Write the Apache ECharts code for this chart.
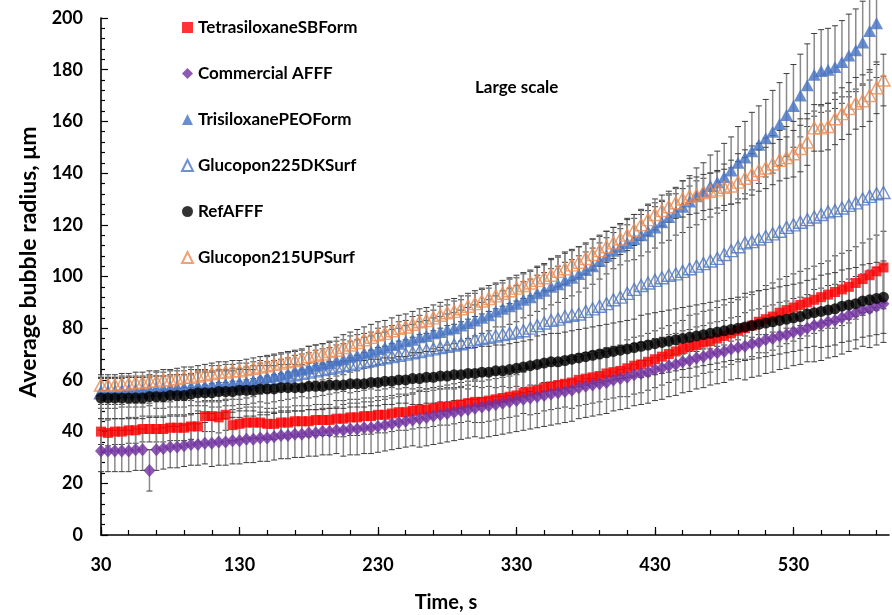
<!DOCTYPE html>
<html>
<head>
<meta charset="utf-8">
<script src="https://cdn.jsdelivr.net/npm/echarts@6/dist/echarts.min.js"></script>
<style>
  html, body { margin: 0; padding: 0; background: #fff; }
  #chart { width: 892px; height: 615px; }
</style>
</head>
<body>
<div id="chart"></div>
<script>
// Sampling times (s)
const times = [
  30,35,40,45,50,55,60,65,70,75,
  80,85,90,95,100,105,110,115,120,125,
  130,135,140,145,150,155,160,165,170,175,
  180,185,190,195,200,205,210,215,220,225,
  230,235,240,245,250,255,260,265,270,275,
  280,285,290,295,300,305,310,315,320,325,
  330,335,340,345,350,355,360,365,370,375,
  380,385,390,395,400,405,410,415,420,425,
  430,435,440,445,450,455,460,465,470,475,
  480,485,490,495,500,505,510,515,520,525,
  530,535,540,545,550,555,560,565,570,575,
  580,585,590,595
];

// Average bubble radius (µm) per formulation, and the ± error of each point
const tetrasiloxaneSB = [
  40,39.5,40,40,40.5,40.5,41,41,41,41,
  41.5,41.5,41.5,42,42,46,46,45.5,46.5,42.5,
  43,43.5,43.5,43.5,43,43,43.5,43.5,44,44,
  44,44.5,44.5,44.5,45,45,45.5,45.5,46,46,
  46.5,46.5,47,47.5,47.5,48,48.5,48.5,49,49.5,
  49.5,50,50.5,51,51.5,51.5,52,52.5,53,53.5,
  54,55,55.5,56,57,57.5,58,58.5,59,60,
  60.5,61,61.5,62.5,63,63.5,64.5,65.5,66,67,
  68,69,70,71,72,73,73.5,74.5,75,76,
  77,78,79,80,81,82.5,83.5,84.5,86,87,
  88,89,90,91,92,93,94,95,96,97.5,
  99,100.5,102,103.5
];
const tetrasiloxaneSBErr = [
  5,5,5,5,5,5,5,5,5,5,
  5,5,5,5,6,6,6,6,6,6,
  6,6,6,6,6,6,6,6,6,6,
  6,6,6,6,7,7,7,7,7,7,
  7,7,7,7,7,7,7,7,7,7,
  7,7,7,7,8,8,8,8,8,8,
  8,8,9,9,9,9,9,9,10,10,
  10,10,10,10,10,10,11,11,11,11,
  11,11,11,11,11,12,12,12,12,12,
  12,12,12,12,12,12,13,13,13,13,
  13,13,13,13,13,13,14,14,14,14,
  14,14,14,14
];

const commercialAFFF = [
  32.5,32.5,32.5,32.5,32.5,33,33,25,33,33.5,
  34,34,34.5,35,35,35.5,35.5,36,36,36.5,
  36.5,37,37,37.5,37.5,38,38.5,38.5,39,39,
  39.5,39.5,40,40,40.5,40.5,41,41,41.5,41.5,
  42,42.5,43,43.5,44,44.5,45,45.5,46,46.5,
  47,47.5,48,48.5,49,49.5,50,50.5,51,51.5,
  52,52.5,53,53.5,54,54.5,55,55.5,56,57,
  57.5,58,58.5,59,60,60.5,61,62,62.5,63,
  64,64.5,65.5,66,67,67.5,68.5,69,70,70.5,
  71,72,72.5,73,74,74.5,75.5,76,77,77.5,
  78.5,79,80,81,81.5,82.5,83,84,85,86,
  87,87.5,88.5,89.5
];
const commercialAFFFErr = [
  8,8,8,8,8,8,8,8,8,8,
  8,8,8,8,8,8,9,9,9,9,
  9,9,9,9,9,9,9,9,9,9,
  9,9,9,9,9,10,10,10,10,10,
  10,10,10,10,10,10,11,11,11,11,
  11,11,11,11,11,12,12,12,12,12,
  12,12,12,12,12,12,12,12,12,12,
  12,12,12,12,12,12,12,12,12,12,
  12,12,12,12,12,12,12,12,12,12,
  12,12,12,13,13,13,13,13,13,13,
  13,13,13,14,14,14,14,14,14,14,
  14,15,15,15
];

const trisiloxanePEO = [
  55.5,55.5,55.5,55.5,56,56,56,56,56.5,56.5,
  56.5,57,57,57,57.5,57.5,57.5,58,58,58.5,
  58.5,59,59.5,60.5,61,61.5,62,62.5,63.5,64,
  64.5,65.5,66,66.5,67.5,68,69,69.5,70.5,71,
  72,72.5,73.5,74,75,75.5,76.5,77,78,78.5,
  79.5,80,81,82,83,84,85,86.5,87.5,88.5,
  89.5,91,92,93.5,94.5,96,97,98.5,99.5,101,
  102.5,104,106,108,110,111.5,113,114.5,116,117.5,
  119,121,123,125,127,129,131,133,135,136.5,
  138.5,141,144,146,148.5,151,153.5,156,159,162.5,
  166,170,174,178,179.5,180,181,183,185.5,187.5,
  190.5,195,198,null
];
const trisiloxanePEOErr = [
  5,5,5,5,5,5,5,5,5,5,
  5,5,5,5,6,6,6,6,6,6,
  6,6,6,6,6,6,6,6,6,6,
  6,6,6,6,6,6,6,6,6,6,
  6,6,6,6,6,6,6,6,6,6,
  6,6,6,6,6,6,6,6,7,7,
  7,7,7,7,7,7,7,7,7,7,
  7,7,7,7,7,7,7,8,8,8,
  8,8,9,9,10,10,11,11,12,12,
  13,13,14,14,15,15,15,16,16,16,
  16,16,16,16,16,16,16,16,16,16,
  16,16,16,null
];

const glucopon225DK = [
  55,55,55,55.5,55.5,55.5,55.5,56,56,56,
  56.5,56.5,56.5,57,57,57,57.5,57.5,58,58,
  58.5,58.5,59,59.5,60,60.5,61,61.5,62,62.5,
  63,63.5,64,64.5,65,65.5,66,66.5,67,67.5,
  68,68.5,69,69.5,70,70.5,71,71.5,72,72.5,
  73,73.5,74,74.5,75.5,76,76.5,77,77.5,78,
  78.5,79,80,81,82,83,83.5,84.5,85,85.5,
  86.5,87.5,88.5,89.5,91,92,93.5,95,96.5,97.5,
  98.5,99.5,100.5,101,102,103,104,105,106,107,
  108.5,110,111.5,113,113.5,114.5,115.5,116.5,117.5,119,
  120,121,122,123,124,125,125.5,126.5,127.5,128.5,
  130,131,132,132.5
];
const glucopon225DKErr = [
  6,6,6,6,6,6,6,6,7,7,
  7,7,7,7,7,7,8,8,8,8,
  8,8,8,8,9,9,9,9,9,9,
  10,10,10,10,10,10,11,11,11,11,
  12,12,12,13,13,14,14,15,15,16,
  16,17,17,18,18,19,19,20,20,21,
  21,22,22,23,23,24,24,25,25,26,
  26,27,27,28,28,28,29,29,29,30,
  30,30,31,31,32,32,33,33,34,34,
  35,35,36,36,37,37,38,38,39,39,
  40,40,41,41,42,42,43,43,44,44,
  44,45,45,45
];

const refAFFF = [
  53,53,53,53,53,53,53,53.5,53.5,53.5,
  54,54,54,54.5,55,55,55,55.5,55.5,55.5,
  56,56,56,56.5,56.5,56.5,57,57,57,57,
  57.5,57.5,57.5,58,58,58,58.5,58.5,58.5,59,
  59,59.5,59.5,60,60,60.5,60.5,61,61,61.5,
  61.5,62,62,62.5,62.5,63,63,63.5,63.5,64,
  64.5,65,65.5,66,66.5,67,67,67.5,68,68.5,
  69,69.5,70,70.5,71,71.5,72,72.5,73,73.5,
  74,74.5,75,75.5,76,76.5,77,77.5,78,78.5,
  79,79.5,80,80.5,81,81.5,82,82.5,83,83.5,
  84,84.5,85.5,86,86.5,87,87.5,88.5,89,89.5,
  90.5,91,91.5,92
];
const refAFFFErr = [
  8,8,8,8,8,8,8,8,8,8,
  8,8,8,8,8,8,8,8,8,8,
  8,8,8,9,9,9,9,9,9,9,
  9,9,9,9,9,9,9,9,9,9,
  9,9,9,9,9,10,10,10,10,10,
  10,10,10,10,10,10,10,10,10,10,
  10,10,10,11,11,11,11,11,11,11,
  11,11,11,11,11,11,11,11,12,12,
  12,12,12,12,12,12,12,12,12,12,
  12,12,12,13,13,13,13,13,13,13,
  13,13,13,13,14,14,14,14,14,14,
  14,14,14,14
];

const glucopon215UP = [
  58,58,58,58.5,58.5,59,59,59.5,59.5,60,
  60,60.5,61,61,61.5,62,62.5,63,63,63.5,
  63.5,64,64.5,65,65.5,66,66.5,67,67.5,68,
  69,69.5,70,71,71.5,72.5,73.5,74.5,75.5,76.5,
  77.5,78,79,80,80.5,81.5,82.5,83,84,85,
  86,86.5,87.5,88.5,89.5,90.5,91.5,92.5,93.5,94.5,
  95.5,96.5,97.5,98.5,99.5,100.5,102,103,104.5,105.5,
  107,108.5,110,111.5,113,114.5,116,118,120,122,
  124,125.5,127,128.5,130,131,131.5,132.5,133,133.5,
  134.5,135,136.5,138,139.5,141,142,143.5,145,146,
  147.5,149.5,152,157.5,157.5,158,161,163,165,167,
  168,170,173,176
];
const glucopon215UPErr = [
  4,4,4,4,4,4,4,4,4,4,
  4,4,4,4,4,4,4,4,4,4,
  4,4,4,4,4,4,4,4,4,4,
  4,4,4,4,5,5,5,5,5,5,
  5,5,5,5,5,5,5,5,5,5,
  5,5,5,5,5,5,5,5,5,5,
  5,5,5,5,5,6,6,6,6,6,
  6,6,6,6,6,6,6,6,6,6,
  6,6,6,6,7,7,7,7,7,7,
  7,7,8,8,8,8,8,8,8,8,
  9,9,9,9,9,9,10,10,10,10,
  10,10,10,10
];

// Axis ticks
const xLabelTicks = [30, 130, 230, 330, 430, 530];
const xMinorTicks = [30,50,70,90,110,130,150,170,190,210,230,250,270,290,310,330,350,370,390,410,430,450,470,490,510,530,550,570,590];

const FONT = 'Lato, "Open Sans", "DejaVu Sans", sans-serif';

const seriesDefs = [
  { name: 'TetrasiloxaneSBForm', vals: tetrasiloxaneSB, errs: tetrasiloxaneSBErr,
    symbol: 'rect', size: 10, style: { color: '#ff0000' } },
  { name: 'Commercial AFFF', vals: commercialAFFF, errs: commercialAFFFErr,
    symbol: 'diamond', size: [12, 13], style: { color: '#7030a0' } },
  { name: 'TrisiloxanePEOForm', vals: trisiloxanePEO, errs: trisiloxanePEOErr,
    symbol: 'triangle', size: [13, 12], style: { color: '#4472c4' } },
  { name: 'Glucopon225DKSurf', vals: glucopon225DK, errs: glucopon225DKErr,
    symbol: 'triangle', size: [13, 12], style: { color: 'rgba(255,255,255,0)', borderColor: '#4a74c6', borderWidth: 1.4 } },
  { name: 'RefAFFF', vals: refAFFF, errs: refAFFFErr,
    symbol: 'circle', size: 11, style: { color: '#000000' } },
  { name: 'Glucopon215UPSurf', vals: glucopon215UP, errs: glucopon215UPErr,
    symbol: 'triangle', size: [13, 12], style: { color: 'rgba(255,255,255,0)', borderColor: '#ee8a4f', borderWidth: 1.5 } }
];

function pointsOf(vals) {
  const out = [];
  times.forEach((t, i) => { if (vals[i] != null) out.push([t, vals[i]]); });
  return out;
}
function barsOf(vals, errs) {
  const out = [];
  times.forEach((t, i) => { if (vals[i] != null) out.push([t, vals[i], errs[i]]); });
  return out;
}

function renderErrorBar(params, api) {
  const x = api.value(0), y = api.value(1), e = api.value(2);
  const top = api.coord([x, y + e]);
  const bot = api.coord([x, y - e]);
  const hw = 3;
  return {
    type: 'group',
    children: [
      { type: 'line', shape: { x1: top[0], y1: top[1], x2: bot[0], y2: bot[1] },
        style: { stroke: '#8a8a8a', lineWidth: 1.5 } },
      { type: 'line', shape: { x1: top[0] - hw, y1: top[1], x2: top[0] + hw, y2: top[1] },
        style: { stroke: '#3c3c3c', lineWidth: 1 } },
      { type: 'line', shape: { x1: bot[0] - hw, y1: bot[1], x2: bot[0] + hw, y2: bot[1] },
        style: { stroke: '#3c3c3c', lineWidth: 1 } }
    ]
  };
}

const series = [];
seriesDefs.forEach(d => {
  series.push({
    type: 'custom', name: d.name + ' error', xAxisIndex: 0, yAxisIndex: 0,
    renderItem: renderErrorBar, encode: { x: 0, y: 1 },
    data: barsOf(d.vals, d.errs), z: 1, silent: true
  });
});
seriesDefs.forEach((d, k) => {
  series.push({
    type: 'scatter', name: d.name, xAxisIndex: 0, yAxisIndex: 0,
    symbol: d.symbol, symbolSize: d.size, itemStyle: d.style,
    data: pointsOf(d.vals), z: 3 + k
  });
});

const chart = echarts.init(document.getElementById('chart'), null, { renderer: 'canvas' });
chart.setOption({
  animation: false,
  backgroundColor: '#ffffff',
  grid: { left: 101, top: 18, width: 788, height: 517, containLabel: false },
  xAxis: [
    {
      type: 'value', min: 30, max: 599,
      axisLine: { show: true, onZero: false, lineStyle: { color: '#000', width: 1.6 } },
      axisTick: { show: true, inside: true, length: 5, customValues: xMinorTicks, lineStyle: { color: '#000', width: 1.2 } },
      axisLabel: { show: true, customValues: xLabelTicks, margin: 21, color: '#000',
        fontFamily: FONT, fontWeight: 'bold', fontSize: 18 },
      splitLine: { show: false }
    },
    {
      type: 'value', min: 30, max: 599, position: 'bottom',
      axisLine: { show: false },
      axisTick: { show: true, inside: true, length: 8, customValues: xLabelTicks, lineStyle: { color: '#000', width: 1.2 } },
      axisLabel: { show: false },
      splitLine: { show: false }
    }
  ],
  yAxis: {
    type: 'value', min: 0, max: 200, interval: 20,
    axisLine: { show: true, onZero: false, lineStyle: { color: '#000', width: 1.6 } },
    axisTick: { show: true, inside: true, length: 7, lineStyle: { color: '#000', width: 1.2 } },
    minorTick: { show: true, splitNumber: 5, length: 4, lineStyle: { color: '#000', width: 1.2 } },
    axisLabel: { margin: 18, color: '#000', fontFamily: FONT, fontWeight: 'bold', fontSize: 18 },
    splitLine: { show: false }
  },
  legend: {
    orient: 'vertical', left: 181, top: 19, padding: 0, itemGap: 29,
    itemWidth: 11, itemHeight: 11, selectedMode: false,
    textStyle: { color: '#000', fontFamily: FONT, fontWeight: 'bold', fontSize: 17 },
    data: [
      { name: 'TetrasiloxaneSBForm', icon: 'rect' },
      { name: 'Commercial AFFF', icon: 'diamond' },
      { name: 'TrisiloxanePEOForm', icon: 'triangle' },
      { name: 'Glucopon225DKSurf', icon: 'triangle' },
      { name: 'RefAFFF', icon: 'circle' },
      { name: 'Glucopon215UPSurf', icon: 'triangle' }
    ]
  },
  graphic: [
    { type: 'text', x: 475, y: 88,
      style: { text: 'Large scale', fill: '#000', font: 'bold 17px ' + FONT, textAlign: 'left', textVerticalAlign: 'middle' } },
    { type: 'text', x: 446, y: 603,
      style: { text: 'Time, s', fill: '#000', font: 'bold 20px ' + FONT, textAlign: 'center', textVerticalAlign: 'middle' } },
    { type: 'text', x: 29, y: 262, rotation: Math.PI / 2,
      style: { text: 'Average bubble radius, μm', fill: '#000', font: 'bold 23px ' + FONT, textAlign: 'center', textVerticalAlign: 'middle' } }
  ],
  series: series
});
</script>
</body>
</html>
